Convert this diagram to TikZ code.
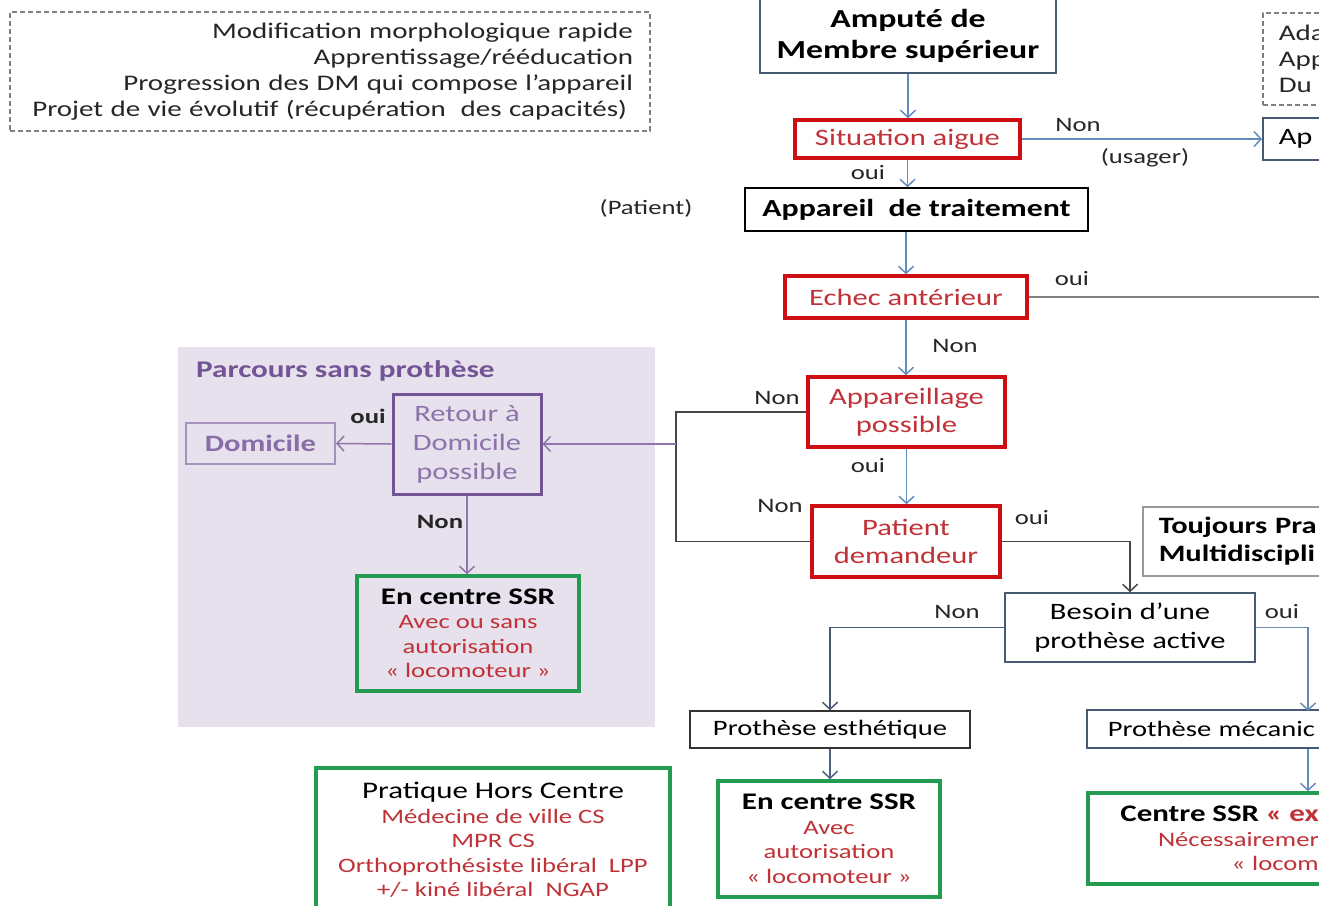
\documentclass[tikz,border=0pt]{standalone}
\usepackage{fontspec}
\setmainfont[FakeStretch=1.3]{Carlito}
\usetikzlibrary{positioning,arrows.meta}
\definecolor{boxred}{RGB}{205,15,20}
\definecolor{txtred}{RGB}{192,50,55}
\definecolor{boxgreen}{RGB}{35,155,80}
\definecolor{slate}{RGB}{70,90,115}
\definecolor{flowblue}{RGB}{100,140,190}
\definecolor{linegray}{RGB}{70,70,70}
\definecolor{bgpurple}{RGB}{230,225,237}
\definecolor{purpdark}{RGB}{115,85,150}
\definecolor{purptxt}{RGB}{140,115,170}
\definecolor{purplite}{RGB}{165,145,190}
\newcommand\setfs[2]{\fontsize{#1}{#2}\selectfont}

\begin{document}
\begin{tikzpicture}
                    [
                        x=1pt, y=-1pt,
                        every node/.style={inner sep=0pt, align=center, font=\setfs{20.5}{25}},
                        box/.style={draw=slate, line width=1.5pt},
                        decision/.style={draw=boxred, line width=3.5pt, text=txtred, font=\setfs{23.5}{28}},
                        ssrbox/.style={draw=boxgreen, line width=3.5pt, text=txtred, font=\setfs{20.5}{24.5}},
                        notebox/.style={draw=gray, line width=1.5pt, dash pattern=on 5pt off 3pt, text=black!85, font=\setfs{22.3}{26}},
                        lbl/.style={text=black!85},
                        tip/.style={-{Straight Barb[length=7pt,width=15pt]}},
                        flow/.style={draw=flowblue, line width=1.5pt, tip},
                        link/.style={draw=linegray, line width=1.5pt},
                        purpflow/.style={draw=purpdark!80, line width=1.5pt, tip}
                    ]

                    % Rahmen
                    \useasboundingbox (0,0) rectangle (1319,905);
                    \clip (0,0) rectangle (1319,905);
                    \fill[white] (0,0) rectangle (1319,905);

                    % Parcours sans prothese
                    \node[fill=bgpurple, minimum width=477pt, minimum height=380pt] (grp) at (416.5,537) {};
                    \node[anchor=west, text=purpdark, font=\bfseries\setfs{24}{28}] (grptitle) at (196,371) {Parcours sans prothèse};

                    % Notizen
                    \node[notebox, text width=606pt, inner xsep=17pt, minimum height=119pt, align=right] (note) at (330,71.5)
                        {Modification morphologique rapide\\Apprentissage/rééducation\\Progression des DM qui compose l’appareil\\Projet de vie évolutif (récupération~ des capacités)\kern6pt};
                    \node[notebox, anchor=north west, text width=130pt, inner xsep=16pt, minimum height=92pt, align=left] (note2) at (1262,12) {Ada\\App\\Du};

                    % Hauptpfad
                    \node[box, minimum width=296pt, minimum height=75pt, font=\bfseries\setfs{26}{31}] (amp) at (908,35.5) {Amputé de\\Membre supérieur};
                    \node[decision, minimum width=225pt, minimum height=38pt] (sit) at (907.5,139) {Situation aigue};
                    \node[box, anchor=west, text width=130pt, inner xsep=16pt, minimum height=42pt, align=left, font=\setfs{23.5}{28}] (apt) at (1262,139) {Ap};
                    \node[box, draw=black, minimum width=343pt, minimum height=43pt, font=\bfseries\setfs{24.5}{29}] (trt) at (916.5,209.5) {Appareil~ de traitement};
                    \node[decision, minimum width=242pt, minimum height=42pt] (ech) at (906,297) {Echec antérieur};
                    \node[decision, minimum width=197pt, minimum height=70pt] (app) at (906.5,412) {Appareillage\\possible};
                    \node[decision, minimum width=188pt, minimum height=71pt] (pat) at (906,541.5) {Patient\\demandeur};

                    % ohne Prothese
                    \node[draw=purpdark, line width=3pt, minimum width=148pt, minimum height=100pt, text=purptxt, font=\setfs{23.5}{29}] (ret) at (467,444) {Retour à\\Domicile\\possible};
                    \node[draw=purplite, line width=2pt, minimum width=149pt, minimum height=41pt, text=purpdark!85, font=\bfseries\setfs{23.5}{28}] (dom) at (260.5,443.5) {Domicile};
                    \node[ssrbox, minimum width=222pt, minimum height=115pt] (ssra) at (468,633.5)
                        {{\color{black}\bfseries\setfs{23.8}{25}En centre SSR}\\Avec ou sans\\autorisation\\« locomoteur »};

                    % Prothesen
                    \node[box, draw=gray!80, anchor=west, text width=250pt, inner xsep=16pt, minimum height=69pt, align=left, font=\bfseries\setfs{23.5}{28}] (tjr) at (1142,541.5) {Toujours Pra\\Multidiscipli};
                    \node[box, minimum width=250pt, minimum height=69pt, font=\setfs{23.5}{29}] (bes) at (1130,627.5) {Besoin d’une\\prothèse active};
                    \node[box, draw=black!80, minimum width=280pt, minimum height=37pt, font=\setfs{22}{26}] (est) at (830,729.5) {Prothèse esthétique};
                    \node[box, anchor=west, text width=300pt, inner xsep=21pt, minimum height=38pt, align=left, font=\setfs{22}{26}] (mec) at (1086,729) {Prothèse mécanic};
                    \node[ssrbox, minimum width=222pt, minimum height=116pt] (ssrb) at (829,839)
                        {{\color{black}\bfseries\setfs{23.8}{25}En centre SSR}\\Avec\\autorisation\\« locomoteur »};
                    \node[ssrbox, anchor=west, text width=240pt, minimum height=91pt, align=right] (ctr) at (1086,838.5)
                        {{\bfseries\setfs{23.8}{25}{\color{black}Centre SSR} « ex}\kern9pt\\Nécessairemer\kern9pt\\« locom\kern9pt};
                    \node[ssrbox, minimum width=354pt, minimum height=144pt] (phc) at (493,840)
                        {{\color{black}\setfs{23.8}{25}Pratique Hors Centre}\\Médecine de ville CS\\MPR CS\\Orthoprothésiste libéral~ LPP\\+/- kiné libéral~ NGAP};

                    % Beschriftungen
                    \node[lbl] (l1) at (1078,125) {Non};
                    \node[lbl] (l2) at (1145,158) {(usager)};
                    \node[lbl] (l3) at (868,173) {oui};
                    \node[lbl] (l4) at (646,208) {(Patient)};
                    \node[lbl] (l5) at (1072,279) {oui};
                    \node[lbl] (l6) at (955,346) {Non};
                    \node[lbl] (l7) at (777,398) {Non};
                    \node[lbl] (l8) at (868,466) {oui};
                    \node[lbl] (l9) at (780,506) {Non};
                    \node[lbl] (l10) at (1032,518) {oui};
                    \node[lbl] (l11) at (957,612) {Non};
                    \node[lbl] (l12) at (1282,612) {oui};
                    \node[lbl, font=\bfseries\setfs{20.5}{25}] (l13) at (368,416) {oui};
                    \node[lbl, font=\bfseries\setfs{20.5}{25}] (l14) at (440,522) {Non};

                    % Verbindungen
                    \coordinate (jn) at (676,541.5);
                    \coordinate (offr) at (1330,297);
                    \coordinate (rx) at (1308,711);

                    \draw[flow] (amp.south) -- (amp.south |- sit.north);
                    \draw[flow] (sit.east) -- (apt.west);
                    \draw[flow] (sit.south) -- (sit.south |- trt.north);
                    \draw[flow] (ech.north |- trt.south) -- (ech.north);
                    \draw[flow] (ech.south) -- (ech.south |- app.north);
                    \draw[flow] (app.south) -- (app.south |- pat.north);
                    \draw[link, draw=gray] (ech.east) -- (offr);
                    \draw[link] (app.west) -| (jn) -- (pat.west);
                    \draw[purpflow] (jn |- ret.east) -- (ret.east);
                    \draw[purpflow] (ret.west) -- (dom.east);
                    \draw[purpflow] (ret.south) -- (ret.south |- ssra.north);
                    \draw[link, tip] (pat.east) -| (bes.north);
                    \draw[link, draw=slate, tip] (bes.west) -| (est.north);
                    \draw[link, draw=flowblue!80!gray, tip] (bes.east) -| (rx);
                    \draw[flow] (rx |- mec.south) -- (rx |- ctr.north);
                    \draw[flow, draw=slate!80!flowblue] (est.south) -- (est.south |- ssrb.north);
                \end{tikzpicture}
\end{document}
